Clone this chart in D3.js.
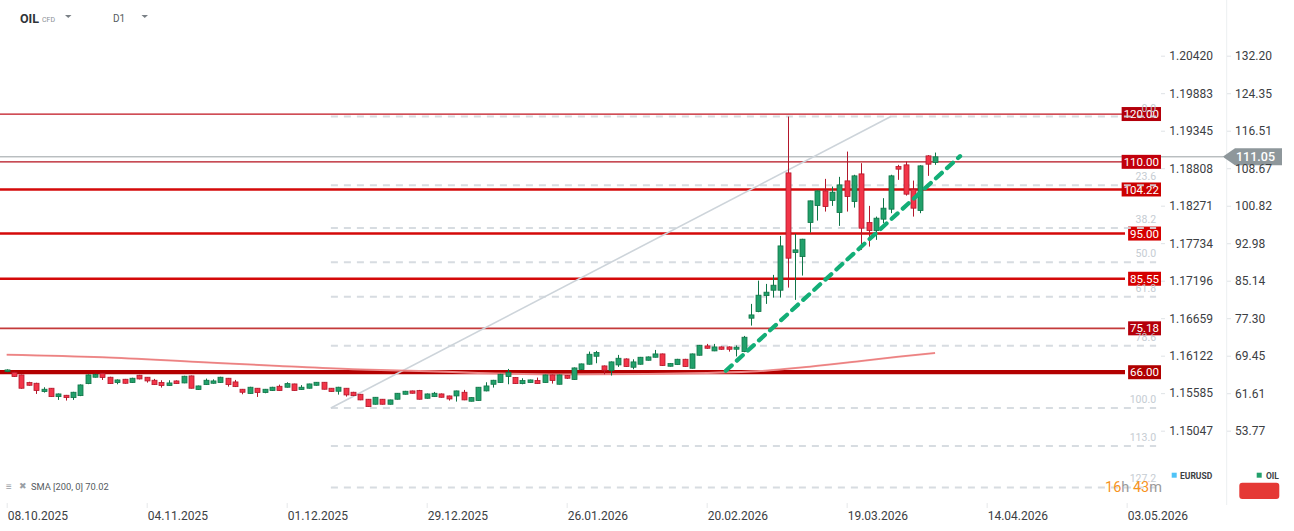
<!DOCTYPE html>
<html><head><meta charset="utf-8">
<script src="https://cdn.jsdelivr.net/npm/d3@7"></script>
<style>
html,body{margin:0;padding:0;background:#fff;}
svg{display:block;font-family:Roboto,"Open Sans",sans-serif;}
</style></head>
<body><svg id="c" width="1294" height="531"></svg>
<script>
// ---------------- DATA ----------------
const opens = [66.13,65.99,65.44,63.83,63.69,61.95,62.65,60.90,61.18,60.69,61.11,63.62,64.95,65.78,64.95,63.83,64.53,63.83,65.37,64.95,
64.32,63.83,63.21,64.18,63.76,65.23,62.37,63.41,63.69,63.83,64.74,63.97,62.44,61.53,62.65,61.74,62.16,63.06,62.86,63.55,
62.37,62.65,63.27,63.90,62.65,62.02,62.65,61.81,61.39,60.35,59.30,60.35,59.30,60.35,61.39,62.09,62.16,60.55,60.90,61.46,
61.04,61.04,61.81,59.93,60.07,62.09,63.48,63.83,65.09,64.88,63.62,63.83,64.25,63.83,65.44,63.48,65.30,64.46,66.55,67.67,
69.34,67.32,66.34,67.53,68.78,67.04,67.67,68.50,69.13,69.83,67.25,67.60,68.71,66.83,69.55,71.50,70.46,71.29,71.29,70.81,
70.31,77.30,78.68,82.02,83.15,83.15,107.69,91.02,90.18,97.30,100.85,103.93,101.90,99.39,106.02,101.69,107.48,97.30,95.62,98.01,
100.10,109.01,109.37,104.28,99.81,111.25,109.85];
const highs = [66.60,66.10,65.50,64.00,63.80,62.86,62.70,61.55,61.25,61.90,63.45,65.55,65.70,65.85,65.05,64.50,64.60,64.85,65.45,65.00,
64.60,64.32,64.32,64.30,65.25,65.30,63.20,64.67,64.50,65.05,64.80,64.39,62.50,62.95,62.70,62.50,62.95,63.40,63.90,63.60,
63.30,63.60,63.95,63.95,62.70,62.95,62.70,61.90,61.45,60.40,60.80,60.40,60.25,61.65,62.10,62.15,62.30,61.55,61.88,61.55,
61.10,62.15,62.30,60.75,62.90,63.90,64.40,65.65,66.69,64.95,64.74,64.45,64.88,65.50,65.50,65.50,65.40,67.00,67.80,70.32,
70.46,67.40,68.25,69.62,68.90,68.71,69.20,69.30,70.66,69.90,67.90,68.80,68.80,69.90,71.70,71.92,71.92,71.40,71.40,71.60,
73.59,80.29,85.16,84.47,86.36,94.51,119.47,94.93,93.90,101.90,104.00,106.44,104.83,106.86,112.15,107.30,109.72,100.79,98.55,102.40,
107.30,109.37,110.06,106.08,109.30,111.40,111.94];
const lows = [66.00,65.00,62.55,63.20,61.46,61.74,60.85,60.21,60.07,60.21,61.00,63.50,64.90,64.39,63.55,63.48,63.60,63.75,64.50,63.83,
63.35,62.79,63.15,63.55,63.70,62.60,62.30,63.35,63.60,63.76,62.99,62.90,61.39,61.45,60.83,61.60,62.10,62.10,62.80,62.10,
62.30,62.60,63.20,62.40,61.90,61.32,60.90,61.00,60.15,58.75,59.25,59.25,59.25,60.30,61.35,61.55,60.30,60.50,60.85,60.70,
60.07,59.86,60.15,59.90,60.00,62.00,62.79,63.80,63.48,63.55,63.48,63.80,63.55,63.80,63.62,63.45,64.60,64.40,66.50,67.60,
67.88,65.57,65.30,67.11,67.10,66.62,67.60,68.45,69.10,67.30,67.20,67.55,67.10,66.80,69.50,70.90,70.40,70.70,70.31,69.30,
70.20,75.75,78.55,80.29,81.61,81.61,83.70,81.13,86.21,95.20,97.71,99.60,100.79,96.61,99.60,100.43,91.59,92.28,93.68,97.17,
99.26,106.23,102.94,98.55,99.26,107.07,109.37];
const closes = [66.48,65.09,62.65,63.27,62.16,62.44,60.90,61.46,60.69,61.81,63.34,65.44,65.51,64.88,63.62,64.39,63.69,64.74,64.60,64.18,
63.41,63.21,63.76,63.62,65.16,62.65,63.13,64.32,64.18,64.95,63.41,62.99,61.81,62.86,61.74,62.44,62.86,62.16,63.62,62.16,
62.86,63.55,63.90,62.44,61.95,62.86,61.25,61.11,60.21,58.81,60.76,59.30,60.21,61.60,62.02,61.60,60.35,61.46,61.60,60.76,
60.41,62.09,60.21,60.69,62.86,63.13,64.32,65.57,65.99,63.62,64.25,64.39,63.62,65.44,64.25,65.44,64.74,66.90,67.74,69.76,
70.11,66.41,68.16,68.92,67.18,68.16,69.13,69.20,69.83,67.39,67.81,68.71,67.18,69.83,71.64,71.01,71.29,70.80,70.80,71.23,
73.32,77.99,82.11,82.74,84.20,92.42,89.85,91.59,93.82,101.84,103.93,100.64,103.66,105.18,102.74,107.07,96.12,95.62,98.22,100.31,
107.07,108.47,103.24,100.31,109.16,109.51,111.05];

const smaIdx = [0,13,26,37,47,56,64,75,87,101,109,116,121,126];
const smaVal = [69.68,69.14,68.15,67.32,66.63,66.27,65.85,65.54,65.64,66.13,67.17,68.36,69.26,70.02];

const levels = [120.00,110.00,104.22,95.00,85.55,75.18,66.00];

const fibLevels = [0,23.6,38.2,50,61.8,78.6,100,113.0,127.2];
const fibHigh = 119.48, fibLow = 58.50, fibStartIdx = 44, fibHighIdx = 120, fibEndIdx = 156;

const trendIdx = [97.6,129.4];
const trendVal = [66.3,111.2];

const lastPrice = 111.05;
const smaLabel = "SMA [200, 0] 70.02";

const dateIdx = [0,19,38,57,76,95,114,133,152];
const dateLabels = ["08.10.2025","04.11.2025","01.12.2025","29.12.2025","26.01.2026","20.02.2026","19.03.2026","14.04.2026","03.05.2026"];
const oilTicks = [132.20,124.35,116.51,108.67,100.82,92.98,85.14,77.30,69.45,61.61,53.77];
const eurTicks = [1.20420,1.19883,1.19345,1.18808,1.18271,1.17734,1.17196,1.16659,1.16122,1.15585,1.15047];

// ---------------- CHART ----------------
const svg = d3.select("#c");
const x = d3.scaleLinear().domain([0,152]).range([6.7,6.7+152*7.368]);
const y = d3.scaleLinear().domain([53.77,132.20]).range([430.7,55.7]);
const yE = d3.scaleLinear().domain([1.15047,1.20420]).range([430.7,55.7]);

const GREEN="#22a06b", GREEN_D="#0f7446", RED="#f23548", RED_D="#b3172b";

// vertical separator
svg.append("line").attr("x1",1226.7).attr("x2",1226.7).attr("y1",0).attr("y2",505)
  .attr("stroke","#eceff1").attr("stroke-width",1);

// levels
const lvlStyle = [
 {w:1.2,c:"#c0121e",b:"#b3000b"},
 {w:1.2,c:"#b5101c",b:"#c2000c"},
 {w:2.6,c:"#d40a0a",b:"#cc0000"},
 {w:2.6,c:"#d40a0a",b:"#d50000"},
 {w:2.6,c:"#d40a0a",b:"#d50000"},
 {w:1.6,c:"#c43a3a",b:"#b5000b"},
 {w:4.2,c:"#b30000",b:"#b00000"}];
const lvlG = svg.append("g");
levels.forEach((v,i)=>{
  lvlG.append("line").attr("x1",0).attr("x2",1125).attr("y1",y(v)).attr("y2",y(v))
    .attr("stroke",lvlStyle[i].c).attr("stroke-width",lvlStyle[i].w);
});

// current price line
svg.append("line").attr("x1",0).attr("x2",1223).attr("y1",y(lastPrice)).attr("y2",y(lastPrice))
  .attr("stroke","#9aa0a4").attr("stroke-width",1);

// level boxes
levels.forEach((v,i)=>{
  const t = svg.append("text").attr("x",1159).attr("y",y(v)).attr("dy","0.36em")
    .attr("text-anchor","end").attr("font-size",11.5).attr("fill","#fff").text(v.toFixed(2));
  const bb = t.node().getBBox();
  svg.insert("rect", function(){return t.node();})
    .attr("x",bb.x-2).attr("y",y(v)-7).attr("width",1161-(bb.x-2)).attr("height",14)
    .attr("fill",lvlStyle[i].b);
});

// fib lines
const fibY = f => y(fibHigh - (fibHigh-fibLow)*f/100);
const fibG = svg.append("g");
fibLevels.forEach(f=>{
  fibG.append("line").attr("x1",x(fibStartIdx)).attr("x2",x(fibEndIdx))
    .attr("y1",fibY(f)).attr("y2",fibY(f))
    .attr("stroke","#d3d9de").attr("stroke-width",2).attr("stroke-dasharray","7,6").attr("opacity",0.9);
  fibG.append("text").attr("x",x(fibEndIdx)).attr("y",fibY(f)-5)
    .attr("text-anchor","end").attr("font-size",10.5).attr("fill","#c3cad1").attr("opacity",0.95)
    .text(f.toFixed(1));
});
svg.append("line").attr("x1",x(fibStartIdx)).attr("y1",y(fibLow)).attr("x2",x(fibHighIdx)).attr("y2",y(fibHigh))
  .attr("stroke","#cdd4da").attr("stroke-width",1.6);

// SMA
const smaLine = d3.line().x((d,i)=>x(smaIdx[i])).y(d=>y(d)).curve(d3.curveMonotoneX);
svg.append("path").attr("d",smaLine(smaVal)).attr("fill","none")
  .attr("stroke","#f19a9a").attr("stroke-width",2);
svg.append("path").attr("d",smaLine(smaVal)).attr("fill","none")
  .attr("stroke","#e25555").attr("stroke-width",0.7).attr("opacity",0.6);

// candles
const cg = svg.append("g");
opens.forEach((o,i)=>{
  const c = closes[i], up = c>=o;
  const cx = Math.round(x(i))+0.5;
  cg.append("line").attr("x1",cx).attr("x2",cx).attr("y1",y(highs[i])).attr("y2",y(lows[i]))
    .attr("stroke",up?GREEN_D:RED_D).attr("stroke-width",1);
  const top = y(Math.max(o,c)), bot = y(Math.min(o,c));
  cg.append("rect").attr("x",cx-2.5).attr("y",top).attr("width",5).attr("height",Math.max(1.5,bot-top))
    .attr("fill",up?GREEN:RED).attr("stroke",up?GREEN_D:RED_D).attr("stroke-width",0.8);
});

// trend line
svg.append("line").attr("x1",x(trendIdx[0])).attr("y1",y(trendVal[0]))
  .attr("x2",x(trendIdx[1])).attr("y2",y(trendVal[1]))
  .attr("stroke","#13ae77").attr("stroke-width",4.2).attr("stroke-dasharray","8,7")
  .attr("stroke-linecap","round");

// current price tag
const ty = y(lastPrice);
svg.append("path").attr("d",`M1222.7,${ty} L1235,${ty-8.5} L1282,${ty-8.5} L1282,${ty+8.5} L1235,${ty+8.5} Z`)
  .attr("fill","#8e979b");

// axes
const axE = d3.axisRight(yE).tickValues(eurTicks).tickSize(4).tickFormat(d3.format(".5f"));
const gE = svg.append("g").attr("transform","translate(1161,0)").call(axE);
gE.select(".domain").remove();
gE.selectAll(".tick line").attr("stroke","#dfe3e6");
gE.selectAll(".tick text").attr("x",52).attr("text-anchor","end").attr("font-size",12).attr("fill","#3c4043")
  .attr("font-family","Roboto");

const axO = d3.axisRight(y).tickValues(oilTicks).tickSize(4).tickFormat(d3.format(".2f"));
const gO = svg.append("g").attr("transform","translate(1227,0)").call(axO);
gO.select(".domain").remove();
gO.selectAll(".tick line").attr("stroke","#dfe3e6");
gO.selectAll(".tick text").attr("x",8).attr("font-size",12).attr("fill","#3c4043").attr("font-family","Roboto");

const axX = d3.axisBottom(x).tickValues(dateIdx).tickSize(5).tickFormat((d,i)=>dateLabels[i]);
const gX = svg.append("g").attr("transform","translate(0,503)").call(axX);
gX.select(".domain").remove();
gX.selectAll(".tick line").attr("stroke","#e6e8ea");
gX.selectAll(".tick text").attr("text-anchor","start").attr("x",0.5).attr("y",8).attr("font-size",12)
  .attr("fill","#3c4043").attr("font-family","Roboto");

// tag text on top
svg.append("text").attr("x",1236).attr("y",ty).attr("dy","0.36em").attr("font-size",12.5)
  .attr("font-weight",500).attr("fill","#fff").text(lastPrice.toFixed(2));

// header
svg.append("text").attr("x",20).attr("y",23).attr("font-size",12.5).attr("font-weight",700)
  .attr("fill","#2f3438").text("OIL");
svg.append("text").attr("x",42).attr("y",22).attr("font-size",7).attr("fill","#8a9096").text("CFD");
svg.append("path").attr("d","M65,15 L71.5,15 L68.25,18 Z").attr("fill","#7a8086");
svg.append("text").attr("x",113).attr("y",22).attr("font-size",10).attr("fill","#555b60").text("D1");
svg.append("path").attr("d","M141.5,15 L148,15 L144.75,18 Z").attr("fill","#7a8086");

// SMA legend
svg.append("text").attr("x",6).attr("y",490).attr("font-size",10).attr("fill","#9aa0a6").text("≡");
svg.append("text").attr("x",19).attr("y",489).attr("font-size",9).attr("fill","#9aa0a6").text("✖");
svg.append("text").attr("x",31).attr("y",489.5).attr("font-size",9.3).attr("fill","#555b60").text(smaLabel);

// countdown
const cd = svg.append("text").attr("x",1105).attr("y",492).attr("font-size",14.5).attr("fill","#f7931e");
cd.append("tspan").text("16");
cd.append("tspan").attr("fill","#9a9a9a").text("h");
cd.append("tspan").text(" 43");
cd.append("tspan").attr("fill","#9a9a9a").text("m");

// series legend
svg.append("rect").attr("x",1171.7).attr("y",472.7).attr("width",5).attr("height",5).attr("fill","#4fc3f7");
svg.append("text").attr("x",1180).attr("y",479).attr("font-size",8.5).attr("font-weight",700).attr("fill","#3c4043").text("EURUSD");
svg.append("rect").attr("x",1256.7).attr("y",472.7).attr("width",5).attr("height",5).attr("fill","#22a06b");
svg.append("text").attr("x",1266).attr("y",479).attr("font-size",8.5).attr("font-weight",700).attr("fill","#3c4043").text("OIL");
svg.append("rect").attr("x",1239.3).attr("y",482.7).attr("width",40).attr("height",16.3).attr("rx",3).attr("fill","#e53935");
</script></body></html>
